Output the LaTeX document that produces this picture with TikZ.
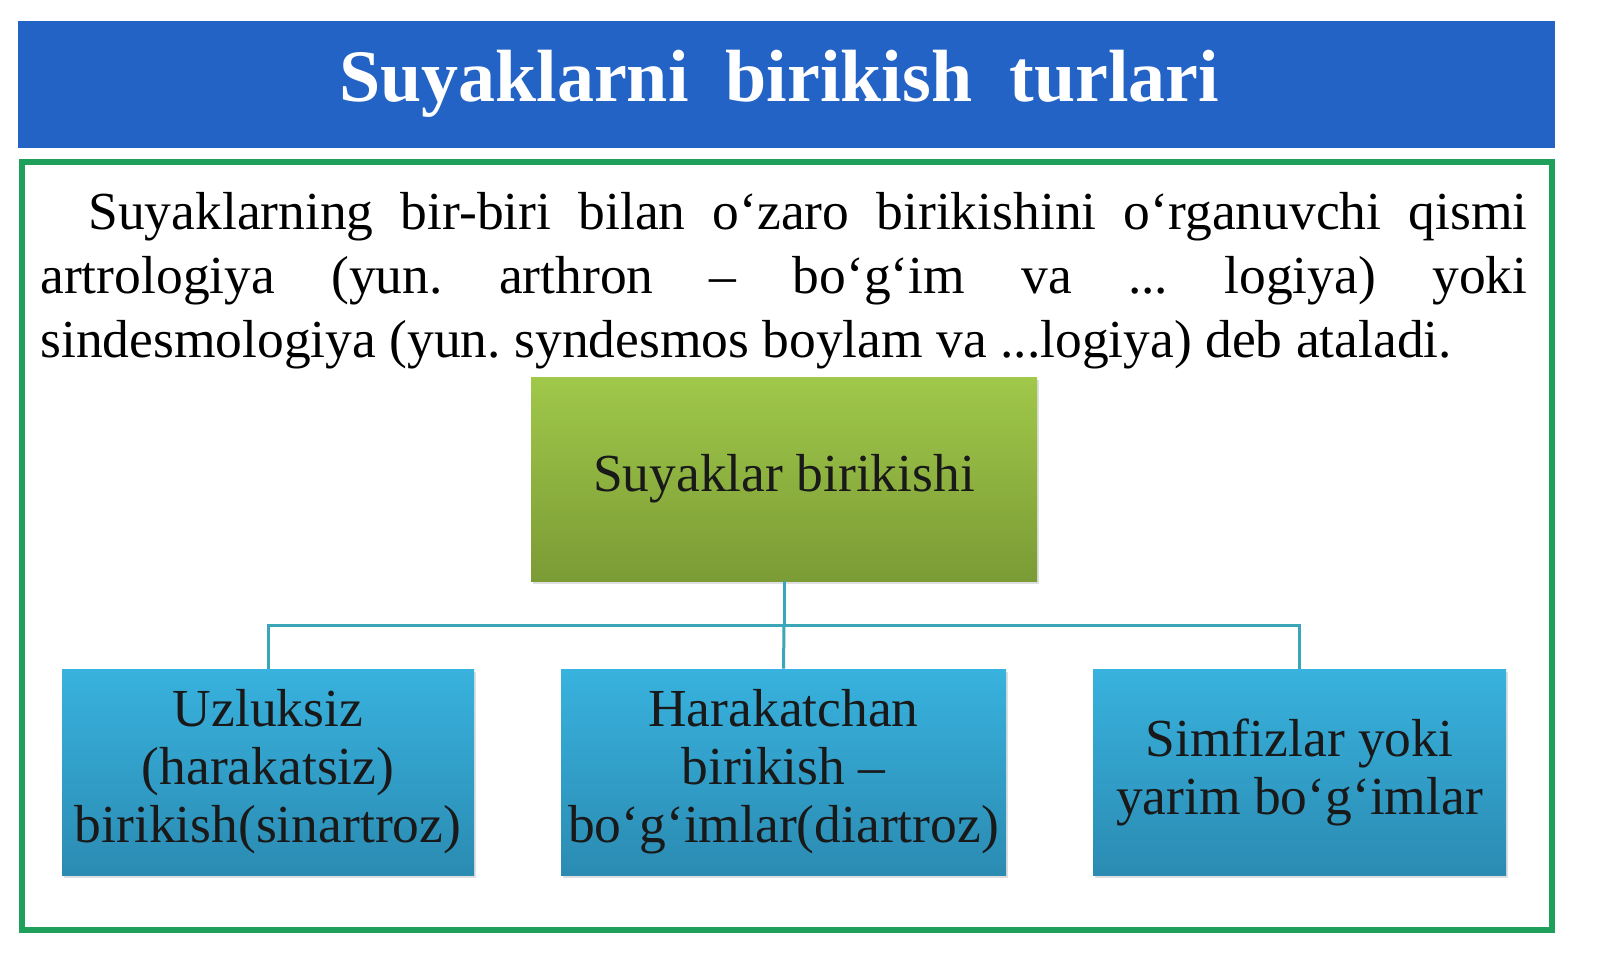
\documentclass[tikz,border=0pt]{standalone}
\usepackage{fontspec}
\setmainfont{Liberation Serif}
\usetikzlibrary{shadows}
\frenchspacing
\definecolor{titleblue}{HTML}{2463C6}
\definecolor{framegreen}{HTML}{1EA05A}
\definecolor{gtop}{HTML}{A0C84A}
\definecolor{gbot}{HTML}{7B9B35}
\definecolor{btop}{HTML}{38B2DE}
\definecolor{bbot}{HTML}{2B8BB2}
\definecolor{linkteal}{HTML}{3BA6B8}
\tikzset{
  boxtext/.style={font=\fontsize{26.75pt}{29pt}\selectfont, align=center, inner sep=0pt, text=black!90},
  greenbox/.style={boxtext, top color=gtop, bottom color=gbot, draw=none,
     drop shadow={opacity=0.25, shadow xshift=1pt, shadow yshift=-1.5pt},
     minimum width=253pt, minimum height=102pt},
  bluebox/.style={boxtext, top color=btop, bottom color=bbot, draw=none,
     drop shadow={opacity=0.25, shadow xshift=1pt, shadow yshift=-1.5pt},
     minimum height=103pt},
  link/.style={draw=linkteal, line width=1.5pt}
}
\begin{document}
\begin{tikzpicture}[x=0.5pt, y=-0.5pt]
\useasboundingbox (0,0) rectangle (1600,969);
\fill[white] (0,0) rectangle (1600,969);
% title bar
\fill[titleblue] (18,21) rectangle (1555,148);
\node[text=white, font=\fontsize{37pt}{40pt}\selectfont\bfseries, inner sep=0pt] (title) at (779,84) {Suyaklarni\ \ birikish\ \ turlari};
% frame
\draw[framegreen, line width=3pt] (21.5,162) rectangle (1552,930);
% paragraph
\node[anchor=base west, inner sep=0pt] (para) at (40,229) {\parbox[t]{743.5pt}{\fontsize{26.75pt}{32pt}\selectfont\frenchspacing\tolerance=10000\hbadness=10000\rightskip=0pt plus 0pt
\hspace*{24pt}Suyaklarning bir-biri bilan o‘zaro birikishini o‘rganuvchi qismi\linebreak
artrologiya (yun. arthron – bo‘g‘im va ... logiya) yoki\linebreak
sindesmologiya (yun. syndesmos boylam va ...logiya) deb ataladi.}};
% nodes
\node[greenbox] (top) at (784,479) {Suyaklar birikishi};
\node[bluebox, minimum width=206pt] (l) at (268,772) {Uzluksiz\\(harakatsiz)\\birikish(sinartroz)};
\node[bluebox, minimum width=222.5pt] (m) at (783.5,772) {Harakatchan\\birikish –\\bo‘g‘imlar(diartroz)};
\node[bluebox, minimum width=206.5pt] (r) at (1299.5,772) {Simfizlar yoki\\yarim bo‘g‘imlar};
% connectors
\coordinate (bus) at (784,625);
\draw[link] (top.south) -- (bus);
\draw[link] (l.north) |- (bus);
\draw[link] (r.north) |- (bus);
\draw[link] (bus) -- (m.north);
\end{tikzpicture}
\end{document}
